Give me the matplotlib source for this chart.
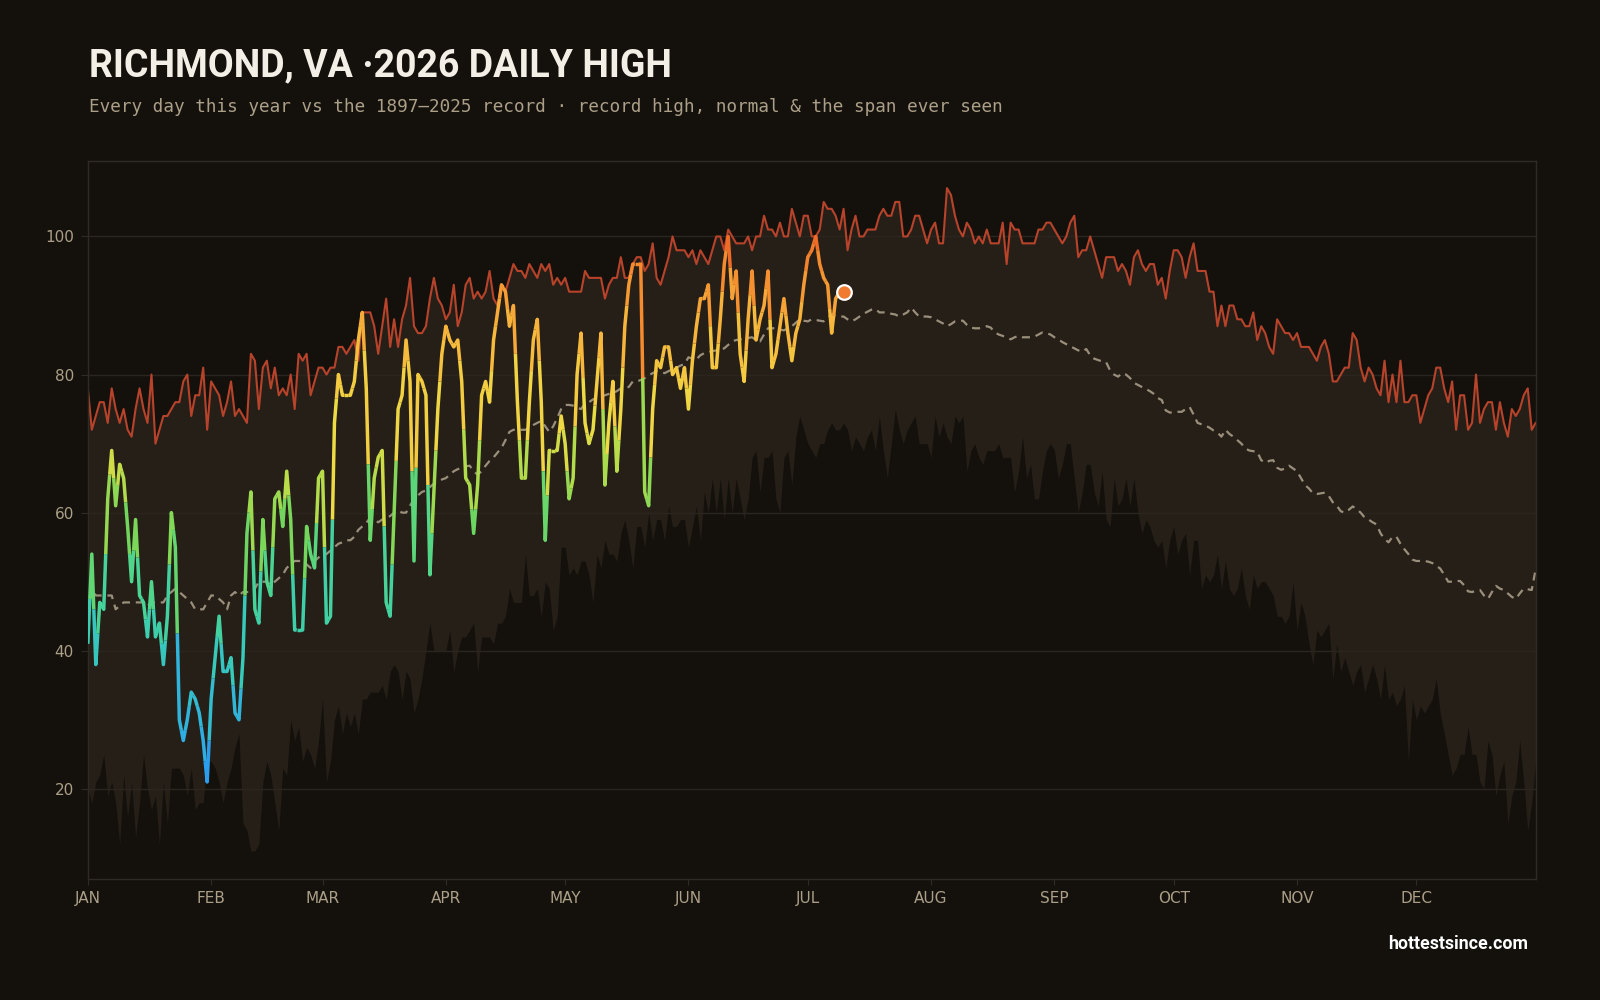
import numpy as np
import matplotlib.pyplot as plt
from matplotlib.collections import LineCollection
from matplotlib.colors import LinearSegmentedColormap, Normalize

# month ticks (day of year, 0 = Jan 1)
months = ['JAN', 'FEB', 'MAR', 'APR', 'MAY', 'JUN', 'JUL', 'AUG', 'SEP', 'OCT', 'NOV', 'DEC']
month_start = [0, 31, 59, 90, 120, 151, 181, 212, 243, 273, 304, 334]
yticks = [20, 40, 60, 80, 100]

# record high for each day, 1897-2025
record_high = [
    78, 72, 74, 76, 76, 73, 78, 75, 73, 75, 72, 71, 75, 78, 75, 73, 80, 70, 72, 74,
    74, 75, 76, 76, 79, 80, 74, 77, 77, 81, 72, 79, 78, 77, 74, 76, 79, 74, 75, 74,
    73, 83, 82, 75, 81, 82, 78, 81, 77, 78, 77, 80, 75, 83, 82, 83, 77, 79, 81, 81,
    80, 81, 81, 84, 84, 83, 84, 85, 82, 89, 89, 89, 87, 83, 87, 91, 84, 88, 84, 88,
    90, 94, 87, 86, 86, 87, 91, 94, 91, 90, 88, 89, 93, 87, 89, 93, 94, 91, 92, 91,
    92, 95, 91, 90, 93, 92, 94, 96, 95, 95, 94, 96, 95, 94, 96, 95, 96, 93, 94, 93,
    94, 92, 92, 92, 92, 95, 94, 94, 94, 94, 91, 93, 94, 94, 97, 94, 94, 96, 97, 97,
    95, 96, 99, 94, 93, 95, 97, 100, 98, 98, 98, 97, 98, 96, 98, 97, 96, 98, 100, 100,
    98, 101, 100, 99, 99, 99, 100, 98, 100, 100, 103, 101, 101, 100, 102, 100, 100, 104, 102, 100,
    103, 103, 100, 100, 101, 105, 104, 104, 103, 101, 104, 98, 101, 103, 100, 100, 101, 101, 101, 103,
    104, 103, 103, 105, 105, 100, 100, 101, 103, 103, 101, 99, 101, 102, 99, 99, 107, 106, 103, 101,
    100, 102, 101, 99, 100, 99, 101, 99, 99, 99, 102, 96, 102, 101, 101, 99, 99, 99, 99, 101,
    101, 102, 102, 101, 100, 99, 100, 102, 103, 97, 98, 98, 100, 98, 96, 94, 97, 97, 97, 95,
    96, 95, 93, 97, 98, 96, 95, 96, 96, 93, 94, 91, 95, 98, 98, 97, 94, 97, 99, 95,
    95, 95, 92, 92, 87, 90, 87, 90, 90, 88, 88, 87, 87, 89, 85, 87, 86, 84, 83, 88,
    87, 86, 86, 85, 86, 84, 84, 84, 83, 82, 84, 85, 83, 79, 79, 80, 81, 81, 86, 85,
    81, 79, 81, 80, 78, 77, 82, 76, 80, 76, 82, 76, 76, 77, 77, 73, 75, 77, 78, 81,
    81, 78, 76, 79, 72, 77, 77, 72, 73, 80, 73, 75, 76, 76, 72, 76, 73, 71, 75, 74,
    75, 77, 78, 72, 73,
]

# lowest daily high ever seen (bottom of the span)
lowest_high = [
    20, 18, 21, 22, 25, 19, 21, 18, 12, 22, 16, 21, 13, 18, 25, 20, 17, 19, 12, 21,
    15, 23, 23, 23, 22, 19, 23, 17, 18, 18, 24, 24, 23, 21, 18, 21, 23, 26, 28, 15,
    14, 11, 11, 12, 21, 24, 22, 18, 14, 23, 22, 30, 27, 29, 24, 26, 25, 23, 27, 33,
    21, 24, 30, 32, 28, 31, 29, 31, 28, 33, 33, 34, 34, 34, 35, 33, 37, 38, 37, 33,
    37, 36, 31, 33, 36, 40, 44, 40, 40, 40, 40, 43, 37, 40, 42, 42, 43, 44, 37, 42,
    42, 42, 41, 44, 44, 45, 49, 47, 47, 47, 54, 48, 48, 49, 45, 50, 49, 43, 45, 55,
    55, 51, 52, 51, 53, 53, 51, 47, 54, 52, 56, 54, 54, 53, 57, 59, 56, 52, 58, 58,
    55, 60, 56, 59, 59, 56, 61, 58, 58, 59, 59, 55, 58, 61, 56, 63, 60, 65, 60, 65,
    59, 65, 60, 65, 62, 59, 62, 68, 69, 63, 68, 68, 69, 62, 60, 68, 69, 64, 71, 74,
    72, 70, 69, 68, 70, 70, 72, 73, 72, 72, 73, 72, 69, 71, 70, 69, 71, 72, 69, 74,
    69, 65, 70, 75, 72, 70, 72, 73, 74, 70, 70, 70, 68, 74, 71, 73, 71, 70, 74, 73,
    74, 66, 69, 70, 68, 67, 69, 69, 69, 70, 68, 68, 68, 63, 66, 71, 65, 67, 62, 62,
    66, 69, 70, 69, 65, 67, 70, 70, 65, 60, 63, 67, 67, 63, 61, 66, 59, 58, 65, 61,
    62, 65, 61, 65, 60, 57, 59, 58, 56, 55, 56, 52, 56, 58, 54, 56, 57, 51, 56, 56,
    49, 51, 50, 51, 54, 49, 53, 49, 48, 49, 52, 48, 46, 51, 49, 50, 50, 49, 48, 45,
    45, 44, 45, 50, 43, 47, 45, 41, 38, 43, 42, 43, 44, 36, 41, 37, 39, 37, 35, 37,
    38, 34, 36, 38, 36, 33, 38, 33, 34, 32, 33, 35, 24, 33, 30, 32, 31, 32, 33, 36,
    31, 28, 25, 22, 23, 25, 25, 29, 25, 25, 21, 20, 27, 25, 19, 22, 24, 15, 19, 21,
    27, 21, 14, 18, 24,
]

# normal daily high
normal_high = [
    50, 49, 48, 48, 48, 48, 48, 46, 46.5, 47, 47, 47, 47, 47, 47, 46.5, 47, 47, 47, 47,
    48, 48.5, 49, 48.5, 48, 47.5, 47, 46, 46, 46, 47, 48, 48, 47.5, 47, 46, 48, 48.5, 48, 48.5,
    48.5, 48.5, 49, 50, 50, 50, 49.5, 50, 50.5, 51, 52, 52.5, 53, 53, 53, 52.5, 52, 53, 53.5, 54,
    54, 54.5, 55, 55.5, 55.7, 56, 56, 56.5, 57.5, 58, 58.5, 59.3, 59, 58.6, 59, 59.3, 59.5, 60, 60.3, 60,
    60, 61, 62, 62.5, 63, 63.2, 63.7, 64.2, 64.5, 64.8, 65, 65.5, 66, 66.3, 66.5, 66.7, 66.8, 66, 65.5, 66,
    66.8, 67.5, 68, 68.7, 69.4, 70.5, 71.7, 72, 72, 72, 72, 72.3, 72.7, 73, 73.3, 72.5, 71.7, 72.5, 73.7, 75,
    75.6, 75.6, 75.5, 75.2, 75, 75.8, 76, 76.4, 76.6, 76.8, 77, 77.2, 77.3, 77.6, 78, 78.1, 78.2, 79, 79, 79.2,
    79.5, 79.9, 80.2, 80.5, 80.4, 80.2, 80.5, 80.8, 81, 81.3, 81.5, 82.5, 82.3, 82.2, 82.8, 83.1, 83.2, 83.4, 83.5, 83.6,
    83.8, 84.3, 84.8, 85, 85.1, 85.2, 85.3, 85.4, 85, 84.8, 85.8, 86.7, 86.7, 86.7, 86.5, 86.4, 86.7, 87, 87.5, 88,
    87.8, 87.7, 88, 87.9, 87.8, 87.7, 88.2, 88.7, 88.5, 88.4, 88.4, 88, 87.7, 88, 88.4, 88.8, 89.1, 89.4, 89.5, 89,
    89, 89, 88.8, 88.7, 88.4, 88.7, 89, 89.7, 89, 88.4, 88.4, 88.4, 88.3, 88, 87.7, 87.4, 87, 87.3, 87.7, 87.8,
    87.8, 87.2, 86.8, 86.7, 86.7, 86.8, 87, 86.8, 86.1, 85.8, 85.6, 85.4, 85.1, 85.4, 85.6, 85.4, 85.4, 85.4, 85.5, 85.8,
    86.1, 86, 85.8, 85.4, 85.1, 84.7, 84.4, 84.1, 83.8, 83.5, 83.3, 83.7, 82.8, 82.3, 82.1, 81.9, 81.8, 80.6, 80, 79.7,
    80.2, 80, 79.5, 78.8, 78.5, 78.2, 77.9, 77.6, 77.2, 76.6, 76.3, 74.8, 74.5, 74.5, 74.6, 74.6, 75, 75.3, 74.2, 73,
    72.8, 72.6, 72.3, 71.9, 71.6, 71, 72, 71.4, 71, 70.5, 70, 69.3, 69, 68.9, 68.8, 67.6, 67.2, 67.5, 67.6, 66.5,
    66.2, 66.4, 66.8, 66.4, 66, 65, 64, 63.5, 62.8, 62.7, 62.8, 62.9, 62.4, 61.5, 61, 60.2, 60, 60.4, 60.9, 60.5,
    60, 59.3, 59, 58.6, 58.3, 57, 56.2, 55.7, 56.5, 56.5, 55.5, 54.7, 54, 53.2, 53, 53, 53, 52.9, 52.7, 52.3,
    51.9, 51, 50, 50, 50.1, 50.1, 49.5, 48.6, 48.5, 48.7, 48.8, 48, 47.5, 48.5, 49.4, 49, 48.8, 48.3, 47.8, 47.5,
    48.3, 49, 48.9, 48.8, 51.8,
]

# 2026 daily highs so far (Jan 1 - Jul 10)
high_2026 = [
    41, 54, 38, 47, 46, 62, 69, 61, 67, 65, 58, 50, 59, 48, 47, 42, 50, 42, 44, 38,
    45, 60, 55, 30, 27, 30, 34, 33, 31, 27, 21, 33, 39, 45, 37, 37, 39, 31, 30, 39,
    57, 63, 46, 44, 59, 50, 48, 62, 63, 58, 66, 59, 43, 43, 43, 58, 54, 52, 65, 66,
    44, 45, 73, 80, 77, 77, 77, 79, 85, 89, 78, 56, 65, 68, 69, 47, 45, 60, 75, 77,
    85, 79, 53, 80, 79, 77, 51, 63, 75, 83, 87, 85, 84, 85, 79, 65, 64, 57, 64, 77,
    79, 76, 85, 89, 93, 92, 87, 90, 76, 65, 65, 76, 85, 88, 76, 56, 69, 69, 69, 74,
    70, 62, 65, 80, 86, 73, 70, 72, 79, 86, 64, 73, 79, 66, 75, 87, 93, 96, 96, 96,
    63, 61, 75, 82, 81, 84, 84, 80, 81, 78, 81, 75, 82, 87, 91, 91, 93, 81, 81, 88,
    96, 100, 91, 95, 83, 79, 88, 95, 85, 88, 90, 95, 81, 83, 87, 91, 86, 82, 86, 88,
    93, 97, 98, 100, 96, 94, 93, 86, 91, 92, 92,
]

BG = '#14110d'
BAND = '#261f18'
GRID = '#2b2520'
SPINE = '#302a24'
RED = '#b7432b'
NORM = '#9a8f7b'
TXT = '#ab9f87'

temp_cmap = LinearSegmentedColormap.from_list('temp', [
    (0.00, '#2a9df0'), (0.12, '#30b4dc'), (0.25, '#38ccb4'), (0.37, '#4fd68c'),
    (0.47, '#72d65c'), (0.56, '#b4dc4a'), (0.65, '#ecdc45'), (0.75, '#f5c840'),
    (0.85, '#f6ae3a'), (0.94, '#f48c2e'), (1.00, '#ee6326')])
tnorm = Normalize(20, 101)

days = np.arange(len(record_high))

fig = plt.figure(figsize=(16, 10), dpi=100, facecolor=BG)
ax = fig.add_axes([0.0549, 0.1214, 0.9049, 0.7181])
ax.set_facecolor(BG)

ax.fill_between(days, lowest_high, record_high, color=BAND, lw=0, zorder=0.5)
for v in yticks:
    ax.axhline(v, color=GRID, lw=1, zorder=1)
ax.plot(days, record_high, color=RED, lw=1.5, zorder=2)
ax.plot(days, normal_high, color=NORM, lw=1.6, ls=(0, (3.6, 2.6)), zorder=2.2)

# this year's line, each day coloured by its own temperature
x = np.arange(len(high_2026))
y = np.array(high_2026, dtype=float)
segs, cols = [], []
for i in range(len(x)):
    pts = []
    if i > 0:
        pts.append(((x[i - 1] + x[i]) / 2, (y[i - 1] + y[i]) / 2))
    pts.append((x[i], y[i]))
    if i < len(x) - 1:
        pts.append(((x[i] + x[i + 1]) / 2, (y[i] + y[i + 1]) / 2))
    segs.append(pts)
    cols.append(temp_cmap(tnorm(y[i])))
lc = LineCollection(segs, colors=cols, linewidths=2.5, capstyle='butt',
                    joinstyle='round', zorder=3)
ax.add_collection(lc)
ax.plot(x[-1], y[-1], 'o', ms=10.5, mfc='#f07a30', mec='white', mew=1.6, zorder=4)

ax.set_xlim(0, 364)
ax.set_ylim(7, 111)
ax.set_xticks(month_start, months)
ax.set_yticks(yticks)
ax.tick_params(axis='x', colors=SPINE, labelcolor=TXT, labelsize=11, length=4, pad=5)
ax.tick_params(axis='y', colors=SPINE, labelcolor=TXT, labelsize=11, length=5, pad=5)
for s in ax.spines.values():
    s.set_color(SPINE)
    s.set_linewidth(1)

fig.text(89 / 1600, 1 - 76.5 / 1000, 'RICHMOND, VA \u00b72026 DAILY HIGH', family='Roboto',
         fontsize=27, fontweight='bold', color='#f4efe6', va='baseline')
fig.text(89 / 1600, 1 - 112 / 1000,
         'Every day this year vs the 1897\u20132025 record \u00b7 record high, normal & the span ever seen',
         family='DejaVu Sans Mono', fontsize=12.7, color=TXT, va='baseline')
fig.text(1528 / 1600, 0.056, 'hottestsince.com', family='Roboto', fontsize=12.8,
         fontweight='bold', color='white', ha='right', va='center')

fig.savefig('out.png', dpi=100, facecolor=BG)
